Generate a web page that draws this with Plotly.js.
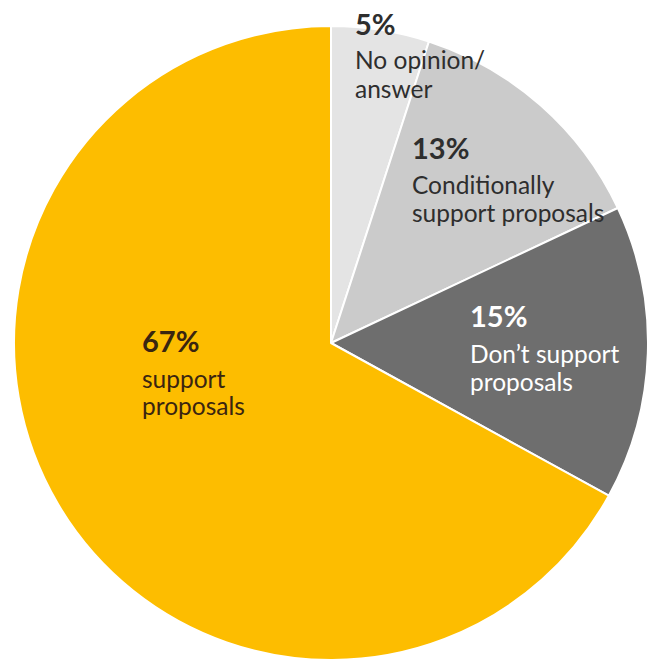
<!DOCTYPE html>
<html>
<head>
<meta charset="utf-8">
<script src="https://cdn.plot.ly/plotly-3.0.1.min.js"></script>
<style>
  html, body { margin: 0; padding: 0; background: #ffffff; }
  #chart { width: 649px; height: 666px; }
</style>
</head>
<body>
<div id="chart"></div>
<script>
// ---- data ----
const categories = ['No opinion/ answer', 'Conditionally support proposals', 'Don’t support proposals', 'support proposals'];
const values = [5, 13, 15, 67];
const labelLine1 = ['No opinion/', 'Conditionally', 'Don’t support', 'support'];
const labelLine2 = ['answer', 'support proposals', 'proposals', 'proposals'];

// ---- styles / positions ----
const W = 649, H = 666;
const sliceColors = ['#e4e4e4', '#cbcbcb', '#6e6e6e', '#fdbd00'];
const textColors = ['#2e2e2e', '#2e2e2e', '#ffffff', '#3a2510'];
const pctSize = 29, lblSize = 24.5;
// left x and baseline y (pixels) for percent, first and second label line
const leftX = [354, 411, 469, 141];
const pctBase = [33, 157, 325, 350];
const line1Base = [68, 193, 362, 387];
const line2Base = [97, 221, 390, 414];

const px = x => x / W;
const py = y => 1 - y / H;
const mid = (base, f) => base - 0.33 * f;

const annotations = [];
function addText(x, base, text, size, color, weight) {
  annotations.push({
    xref: 'paper', yref: 'paper',
    x: px(x), y: py(mid(base, size)),
    xanchor: 'left', yanchor: 'middle', align: 'left',
    text: text, showarrow: false, borderpad: 0,
    font: { family: 'Lato, sans-serif', size: size, color: color, weight: weight }
  });
}
values.forEach((v, i) => {
  addText(leftX[i], pctBase[i], v + '%', pctSize, textColors[i], 700);
  addText(leftX[i], line1Base[i], labelLine1[i], lblSize, textColors[i], 400);
  addText(leftX[i], line2Base[i], labelLine2[i], lblSize, textColors[i], 400);
});

const trace = {
  type: 'pie',
  labels: categories,
  values: values,
  sort: false,
  direction: 'clockwise',
  rotation: 0,
  textinfo: 'none',
  hoverinfo: 'none',
  marker: { colors: sliceColors, line: { color: '#ffffff', width: 2 } },
  domain: { x: [px(14), px(648)], y: [py(660), py(26)] }
};

const layout = {
  width: W, height: H,
  margin: { l: 0, r: 0, t: 0, b: 0 },
  paper_bgcolor: '#ffffff',
  showlegend: false,
  annotations: annotations
};

Plotly.newPlot('chart', [trace], layout, { displayModeBar: false, staticPlot: true });
</script>
</body>
</html>
